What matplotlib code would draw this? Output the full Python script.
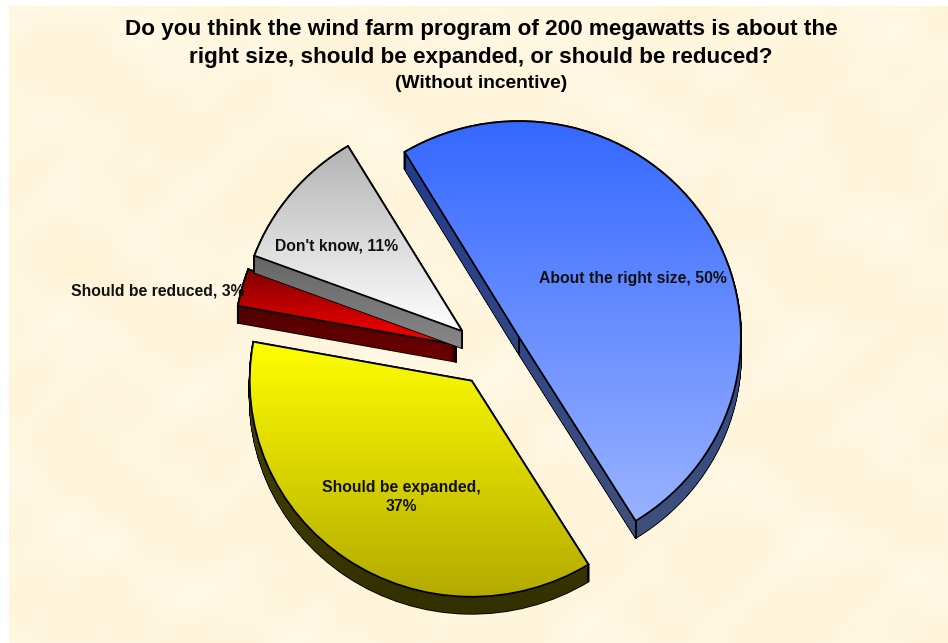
import matplotlib
matplotlib.use('Agg')
import matplotlib.pyplot as plt
import numpy as np
from matplotlib.colors import LinearSegmentedColormap
from matplotlib.path import Path
from matplotlib.patches import PathPatch

# chart data
categories = ['About the right size', 'Should be expanded', 'Should be reduced', "Don't know"]
shares = [49.8, 36.7, 2.8, 10.7]
title_lines = ['Do you think the wind farm program of 200 megawatts is about the',
               'right size, should be expanded, or should be reduced?']
subtitle = '(Without incentive)'

# styles
explode = [0.15, 0.15, 0.16, 0.165]
top_colors = [('#3366ff', '#99b3ff'), ('#ffff00', '#b3aa00'), ('#800000', '#ff0000'), ('#b3b3b3', '#ffffff')]
side_colors = [('#1f3a8f', '#40507c'), ('#4a4700', '#333000'), ('#3a0000', '#700000'), ('#3c3c3c', '#888888')]
label_pos = [(633, 279), (401, 497), (158, 291), (337, 246)]

W, H = 948, 643
CX, CY = 490.5, 354
RX, RY = 222, 216
DEPTH = 17
LIM = 1.4
LW = 1.3

plt.rcParams['font.family'] = ['Liberation Sans', 'DejaVu Sans']
fig = plt.figure(figsize=(W / 100, H / 100), dpi=100, facecolor='white')

# paper texture behind everything
bg = fig.add_axes([9 / W, 0, 1 - 9 / W, 1 - 6 / H])
yy, xx = np.mgrid[0:637, 0:939]
tex = (np.sin(xx / 23 + np.sin(yy / 31) * 2) + np.sin(yy / 17 + np.sin(xx / 41) * 2)
       + np.sin((xx + yy) / 11) * 0.5 + np.sin((xx - 2 * yy) / 57) * 1.2)
tex = (tex - tex.min()) / (tex.max() - tex.min())
bg_cmap = LinearSegmentedColormap.from_list('paper', ['#fef3d6', '#fff9e6'])
bg.imshow(tex, cmap=bg_cmap, aspect='auto', interpolation='bilinear')
bg.axis('off')

# pie, unit circle gets stretched to the ellipse by the axes box
ax = fig.add_axes([(CX - LIM * RX) / W, 1 - (CY + LIM * RY) / H, 2 * LIM * RX / W, 2 * LIM * RY / H])
wedges, _ = ax.pie(shares, explode=explode, startangle=121, counterclock=False)
ax.set_aspect('auto')
ax.patch.set_alpha(0)
dz = DEPTH / RY


def gradient(colors, y_top, y_bot, zorder):
    cmap = LinearSegmentedColormap.from_list('g', colors)
    arr = np.linspace(0, 1, 256).reshape(-1, 1)
    return ax.imshow(arr, cmap=cmap, extent=(-LIM, LIM, y_bot, y_top), origin='upper',
                     aspect='auto', zorder=zorder, interpolation='bilinear')


for i in [0, 1, 2, 3]:
    w = wedges[i]
    base = 10 + i * 5
    path = w.get_path()
    ys = path.vertices[:, 1]

    # extruded side: stack of the wedge shifted downwards
    shifted = [Path(path.vertices - [0, dz * k / DEPTH], path.codes) for k in range(DEPTH + 1)]
    side = Path.make_compound_path(*shifted)
    ax.add_patch(PathPatch(side, facecolor='black', edgecolor='black', lw=LW, zorder=base))
    side_im = gradient(side_colors[i], ys.max(), ys.min() - dz, base + 1)
    side_im.set_clip_path(PathPatch(side, transform=ax.transData))

    # corners of the slice
    cx, cy = w.center
    for a in [w.theta1, w.theta2]:
        px = cx + np.cos(np.radians(a))
        py = cy + np.sin(np.radians(a))
        ax.plot([px, px], [py, py - dz], color='black', lw=LW, zorder=base + 2)
    ax.plot([cx, cx], [cy, cy - dz], color='black', lw=LW, zorder=base + 2)

    # top face
    top_im = gradient(top_colors[i], ys.max(), ys.min(), base + 3)
    top_im.set_clip_path(PathPatch(path, transform=ax.transData))
    w.set_facecolor('none')
    w.set_edgecolor('black')
    w.set_linewidth(LW)
    w.set_zorder(base + 4)

ax.set_xlim(-LIM, LIM)
ax.set_ylim(-LIM, LIM)
ax.axis('off')

# titles
fig.text(481 / W, 1 - 29 / H, title_lines[0], ha='center', va='center', fontsize=16.2, fontweight='bold')
fig.text(481 / W, 1 - 58 / H, title_lines[1], ha='center', va='center', fontsize=16.2, fontweight='bold')
fig.text(481 / W, 1 - 83 / H, subtitle, ha='center', va='center', fontsize=13.8, fontweight='bold')

# data labels
for name, share, (lx, ly) in zip(categories, shares, label_pos):
    text = f'{name}, {round(share)}%'
    if name == 'Should be expanded':
        text = f'{name},\n{round(share)}%'
    fig.text(lx / W, 1 - ly / H, text, ha='center', va='center', fontsize=11.3, fontweight='bold',
             color='#111111', zorder=50, linespacing=1.4)

fig.savefig('out.png', dpi=100)
